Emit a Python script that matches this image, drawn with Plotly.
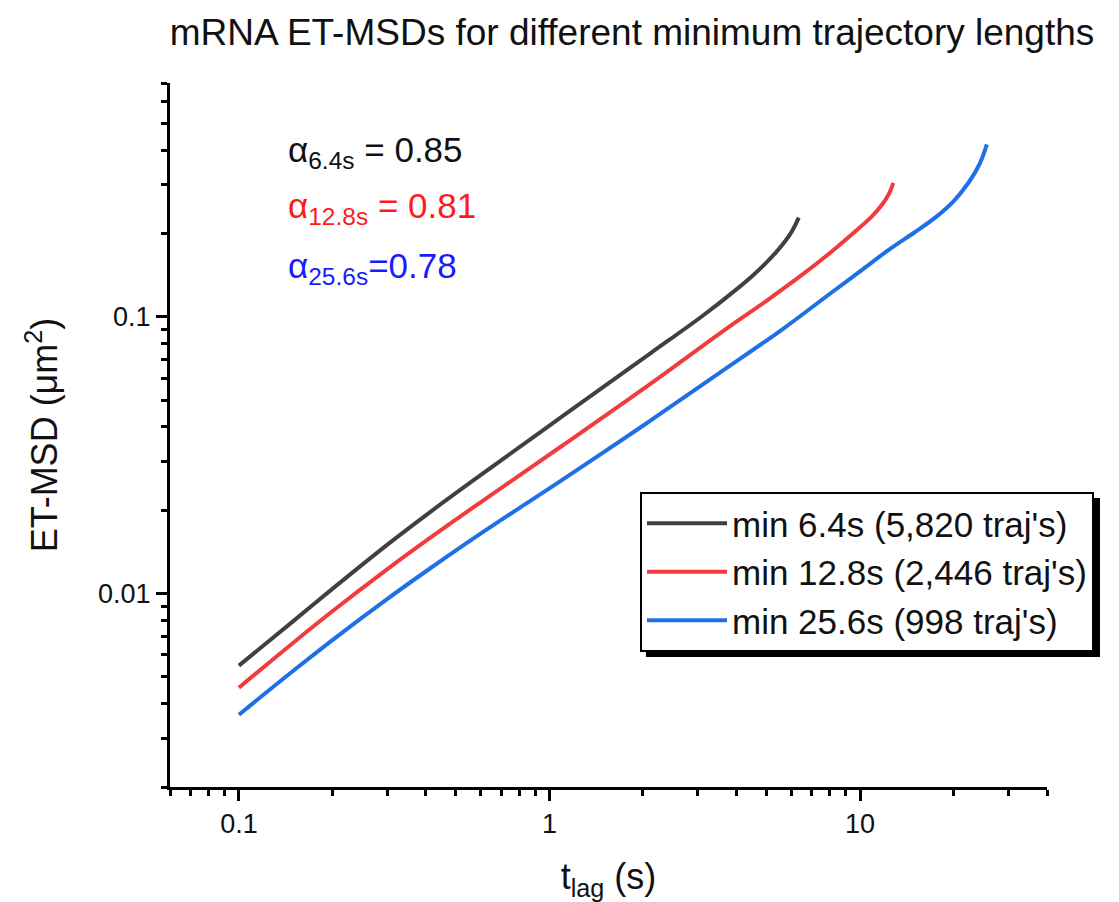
import plotly.graph_objects as go
import numpy as np

# ---- data ----
t_black = [0.1, 0.15, 0.2, 0.3, 0.42, 0.6, 0.94, 1.5, 2.13, 3.1, 4.0, 4.49, 4.9, 5.47, 6.0, 6.35]
msd_black = [0.00549, 0.00797, 0.0104, 0.0150, 0.0200, 0.0268, 0.0385, 0.0561, 0.0743, 0.1005, 0.1257, 0.1403, 0.1538, 0.1755, 0.2016, 0.2284]

t_red = [0.1, 0.15, 0.2, 0.3, 0.42, 0.6, 1.09, 2.0, 3.68, 5.0, 6.5, 8.0, 9.2, 10.9, 11.8, 12.4, 12.8]
msd_red = [0.00457, 0.00666, 0.00863, 0.01223, 0.01612, 0.02137, 0.0340, 0.0548, 0.090, 0.1143, 0.1417, 0.1701, 0.1943, 0.2302, 0.2552, 0.279, 0.305]

t_blue = [0.1, 0.15, 0.2, 0.3, 0.42, 0.6, 1.09, 2.0, 3.5, 5.61, 8.0, 10.0, 12.4, 15.0, 17.5, 20.0, 22.4, 24.3, 25.6]
msd_blue = [0.00365, 0.00527, 0.00679, 0.00955, 0.0125, 0.01646, 0.0256, 0.0404, 0.0624, 0.090, 0.1212, 0.146, 0.175, 0.2022, 0.2288, 0.2615, 0.3065, 0.3578, 0.42]

series_names = ["min 6.4s (5,820 traj's)", "min 12.8s (2,446 traj's)", "min 25.6s (998 traj's)"]
series_colors = ["#404040", "#f03c3c", "#1f6fe6"]

alpha_labels = ["α<sub>6.4s</sub> = 0.85", "α<sub>12.8s</sub> = 0.81", "α<sub>25.6s</sub>=0.78"]
alpha_colors = ["#111111", "#ff1a1a", "#1a1aff"]

x_major = [0.1, 1, 10]
x_major_text = ["0.1", "1", "10"]
y_major = [0.01, 0.1]
y_major_text = ["0.01", "0.1"]
x_minor = [0.06, 0.07, 0.08, 0.09, 0.2, 0.3, 0.4, 0.5, 0.6, 0.7, 0.8, 0.9,
           2, 3, 4, 5, 6, 7, 8, 9, 20, 30, 40]
y_minor = [0.002, 0.003, 0.004, 0.005, 0.006, 0.007, 0.008, 0.009,
           0.02, 0.03, 0.04, 0.05, 0.06, 0.07, 0.08, 0.09,
           0.2, 0.3, 0.4, 0.5, 0.6, 0.7]

FONT = "Liberation Sans, Arial, sans-serif"

fig = go.Figure()
for t, m, name, col in zip([t_black, t_red, t_blue], [msd_black, msd_red, msd_blue],
                           series_names, series_colors):
    fig.add_trace(go.Scatter(x=t, y=m, mode="lines", name=name,
                             line=dict(color=col, width=4, shape="spline", smoothing=1.0)))

W, H = 1119, 902
L, R, T, B = 170, 72, 83, 115
pw, ph = W - L - R, H - T - B

def px_x(p):
    return (p - L) / pw

def px_y(p):
    return (H - B - p) / ph

axis_common = dict(
    type="log", showline=True, linecolor="black", linewidth=3, mirror=False,
    showgrid=False, zeroline=False, ticks="outside", ticklen=11, tickwidth=2.5,
    tickcolor="black", tickmode="array",
    tickfont=dict(family=FONT, size=27, color="#111111"),
)

fig.update_layout(
    width=W, height=H,
    margin=dict(l=L, r=R, t=T, b=B, autoexpand=False),
    paper_bgcolor="white", plot_bgcolor="white",
    font=dict(family=FONT, color="#111111"),
    title=dict(text="mRNA ET-MSDs for different minimum trajectory lengths",
               x=632 / W, xanchor="center",
               y=1 - 32 / H, yanchor="middle",
               font=dict(family=FONT, size=37, color="#111111")),
    xaxis=dict(**axis_common, range=[np.log10(0.06), np.log10(40)],
               tickvals=x_major, ticktext=x_major_text,
               minor=dict(tickmode="array", tickvals=x_minor, ticks="outside",
                          ticklen=6, tickwidth=2.5, tickcolor="black"),
               title=dict(text="t<sub>lag</sub> (s)", standoff=26,
                          font=dict(family=FONT, size=36, color="#111111"))),
    yaxis=dict(**axis_common, range=[np.log10(0.002), np.log10(0.7)],
               tickvals=y_major, ticktext=y_major_text,
               minor=dict(tickmode="array", tickvals=y_minor, ticks="outside",
                          ticklen=6, tickwidth=2.5, tickcolor="black"),
               title=dict(text="ET-MSD (μm<sup>2</sup>)", standoff=30,
                          font=dict(family=FONT, size=36, color="#111111"))),
    legend=dict(x=px_x(640), y=px_y(492), xanchor="left", yanchor="top",
                bgcolor="white", bordercolor="black", borderwidth=2,
                font=dict(family=FONT, size=35, color="#111111"),
                itemwidth=80, tracegroupgap=0),
    showlegend=True,
)

# legend drop shadow
fig.add_shape(type="rect", xref="paper", yref="paper",
              x0=px_x(646), x1=px_x(1100), y0=px_y(657), y1=px_y(498),
              fillcolor="black", line=dict(width=0), layer="above")

# alpha annotations
for i, (txt, col) in enumerate(zip(alpha_labels, alpha_colors)):
    fig.add_annotation(text=txt, xref="paper", yref="paper",
                       x=px_x(286), y=px_y([152, 208, 268][i]),
                       xanchor="left", yanchor="middle", showarrow=False,
                       font=dict(family=FONT, size=35, color=col))

fig.write_html("out.html")
